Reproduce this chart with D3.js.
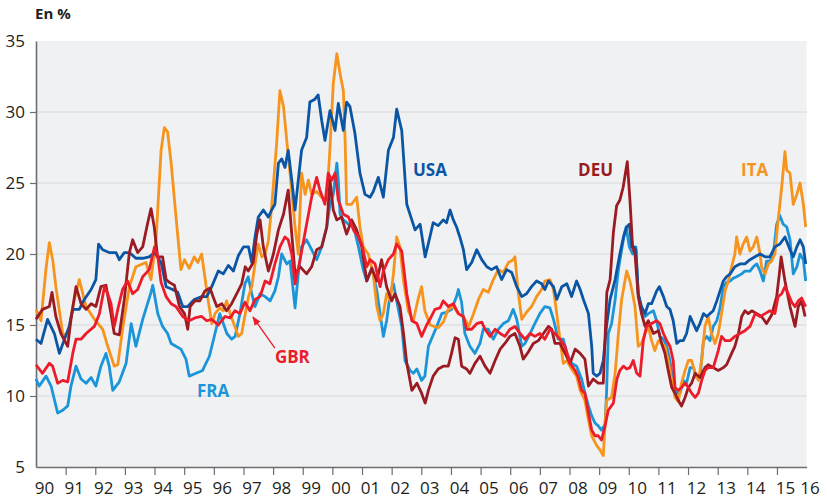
<!DOCTYPE html>
<html lang="fr">
<head>
<meta charset="UTF-8">
<title>Taux en %</title>
<script src="https://d3js.org/d3.v7.min.js"></script>
<style>
  body { margin: 0; background: #fff; }
  svg { display: block; font-family: "Open Sans", "Noto Sans", sans-serif; }
  .tick-label { font-size: 17px; fill: #231f20; }
  .series-label { font-size: 17px; font-weight: bold; }
</style>
</head>
<body>
<svg width="827" height="498"></svg>
<script>
// axis labels
const yTicks = [5, 10, 15, 20, 25, 30, 35];
const years = d3.range(1990, 2017);
const yearLabels = years.map(y => String(y).slice(2));

// series: [year, value in %]
const usa = [[1990.00,14.0],[1990.17,13.7],[1990.39,15.4],[1990.62,14.4],[1990.79,13.0],[1990.96,14.0],[1991.12,14.9],[1991.24,16.1],[1991.46,16.1],[1991.63,16.8],[1991.86,17.5],[1992.02,18.2],[1992.11,20.7],[1992.25,20.3],[1992.47,20.1],[1992.70,20.1],[1992.81,19.6],[1992.98,20.1],[1993.15,20.1],[1993.37,19.7],[1993.60,19.7],[1993.82,19.8],[1994.00,20.1],[1994.22,19.4],[1994.39,17.7],[1994.61,17.5],[1994.78,17.3],[1994.95,16.3],[1995.12,16.3],[1995.34,16.8],[1995.59,17.0],[1995.76,17.0],[1995.93,17.7],[1996.15,18.8],[1996.32,18.6],[1996.49,19.2],[1996.66,18.8],[1996.83,19.9],[1997.00,20.5],[1997.17,20.5],[1997.28,19.4],[1997.39,21.2],[1997.50,22.6],[1997.67,23.1],[1997.84,22.6],[1997.95,23.1],[1998.06,23.5],[1998.18,26.4],[1998.29,26.7],[1998.40,26.1],[1998.51,27.3],[1998.63,25.2],[1998.74,23.1],[1998.85,25.2],[1998.96,27.3],[1999.13,28.2],[1999.24,30.7],[1999.41,30.9],[1999.52,31.2],[1999.64,29.4],[1999.75,28.0],[1999.92,30.1],[2000.09,28.7],[2000.20,30.6],[2000.37,28.7],[2000.48,30.7],[2000.59,30.4],[2000.76,28.5],[2000.93,25.7],[2001.10,24.2],[2001.27,24.0],[2001.38,24.4],[2001.55,25.4],[2001.72,24.0],[2001.89,27.3],[2002.06,28.2],[2002.17,30.2],[2002.34,28.7],[2002.51,23.5],[2002.68,22.4],[2002.79,21.7],[2002.96,22.1],[2003.13,19.8],[2003.29,21.2],[2003.40,22.2],[2003.57,22.0],[2003.74,22.4],[2003.85,22.2],[2003.97,23.1],[2004.08,22.4],[2004.19,21.9],[2004.30,21.2],[2004.42,20.3],[2004.53,18.9],[2004.70,19.4],[2004.87,20.3],[2005.04,19.6],[2005.21,19.1],[2005.37,18.9],[2005.54,19.1],[2005.71,18.2],[2005.88,18.9],[2006.05,18.7],[2006.22,17.7],[2006.39,17.0],[2006.55,17.2],[2006.72,17.7],[2006.89,18.1],[2007.06,17.9],[2007.17,17.5],[2007.29,18.1],[2007.46,17.7],[2007.57,16.8],[2007.74,17.7],[2007.91,17.9],[2008.07,17.0],[2008.24,18.1],[2008.36,17.5],[2008.47,16.8],[2008.64,15.8],[2008.75,13.5],[2008.80,11.6],[2008.92,11.4],[2009.03,11.6],[2009.14,12.5],[2009.25,14.9],[2009.37,16.8],[2009.54,18.2],[2009.70,20.0],[2009.82,21.2],[2009.93,21.9],[2010.02,22.1],[2010.10,20.5],[2010.18,20.5],[2010.24,20.3],[2010.32,17.2],[2010.43,16.3],[2010.55,15.8],[2010.66,16.5],[2010.77,16.5],[2010.94,17.4],[2011.03,17.7],[2011.17,17.0],[2011.28,16.3],[2011.39,16.1],[2011.50,15.3],[2011.62,13.7],[2011.73,13.9],[2011.84,13.9],[2011.95,14.4],[2012.07,15.6],[2012.18,15.1],[2012.29,14.6],[2012.40,15.1],[2012.52,15.8],[2012.63,15.6],[2012.74,15.8],[2012.85,16.0],[2012.97,16.7],[2013.08,17.4],[2013.19,18.1],[2013.30,18.4],[2013.42,18.6],[2013.58,19.1],[2013.75,19.3],[2013.92,19.3],[2014.09,19.6],[2014.26,19.8],[2014.43,20.0],[2014.60,19.8],[2014.76,19.8],[2014.93,20.5],[2015.10,20.7],[2015.27,21.2],[2015.44,20.3],[2015.55,19.8],[2015.67,20.5],[2015.78,21.0],[2015.89,20.5],[2015.97,19.3]];

const ita = [[1990.00,16.1],[1990.17,15.3],[1990.34,19.0],[1990.45,20.8],[1990.57,19.5],[1990.67,17.7],[1990.90,14.4],[1991.07,14.2],[1991.24,16.3],[1991.46,18.2],[1991.69,16.3],[1991.97,15.4],[1992.25,14.7],[1992.42,13.5],[1992.64,12.1],[1992.76,12.2],[1992.92,14.7],[1993.15,17.7],[1993.37,19.1],[1993.71,19.4],[1993.88,18.2],[1994.05,21.0],[1994.22,27.3],[1994.33,28.9],[1994.44,28.6],[1994.56,26.4],[1994.72,22.7],[1994.89,18.9],[1995.01,19.6],[1995.17,19.0],[1995.34,19.8],[1995.46,19.4],[1995.59,20.0],[1995.79,17.0],[1995.93,15.1],[1996.04,15.8],[1996.20,16.2],[1996.32,16.0],[1996.43,16.7],[1996.55,15.8],[1996.71,14.9],[1996.83,14.2],[1996.94,14.4],[1997.06,15.8],[1997.17,17.0],[1997.28,17.7],[1997.39,19.3],[1997.50,20.7],[1997.62,19.8],[1997.73,20.0],[1997.84,20.9],[1997.95,23.3],[1998.12,27.8],[1998.23,31.5],[1998.35,30.4],[1998.46,28.0],[1998.57,25.7],[1998.74,21.9],[1998.85,20.0],[1998.96,25.7],[1999.08,24.2],[1999.19,25.2],[1999.30,24.2],[1999.47,24.4],[1999.64,24.0],[1999.81,23.8],[1999.92,27.5],[2000.03,32.0],[2000.15,34.1],[2000.26,32.7],[2000.37,31.5],[2000.43,28.0],[2000.48,23.5],[2000.65,23.5],[2000.82,24.0],[2000.93,21.9],[2001.04,20.5],[2001.21,20.0],[2001.38,18.6],[2001.50,16.3],[2001.61,15.3],[2001.72,15.8],[2001.83,17.2],[2001.95,16.7],[2002.06,18.6],[2002.17,21.2],[2002.28,20.5],[2002.40,18.1],[2002.56,16.0],[2002.73,15.3],[2002.90,16.9],[2003.01,17.7],[2003.12,16.0],[2003.30,15.0],[2003.57,14.8],[2003.74,15.2],[2003.91,16.1],[2004.08,16.3],[2004.25,15.8],[2004.42,15.6],[2004.60,14.9],[2004.76,15.8],[2004.93,16.8],[2005.09,17.5],[2005.26,17.3],[2005.43,18.2],[2005.60,18.9],[2005.77,18.7],[2005.94,19.4],[2006.10,19.6],[2006.16,19.8],[2006.27,17.3],[2006.39,15.4],[2006.55,15.9],[2006.72,16.3],[2006.89,17.0],[2007.06,17.5],[2007.17,18.1],[2007.34,18.2],[2007.46,17.5],[2007.57,15.8],[2007.68,14.0],[2007.79,12.3],[2007.91,12.5],[2008.07,11.9],[2008.24,11.4],[2008.36,10.4],[2008.52,9.7],[2008.64,8.3],[2008.75,7.2],[2008.92,6.5],[2009.03,6.2],[2009.14,5.8],[2009.25,9.7],[2009.42,9.9],[2009.54,11.6],[2009.65,14.4],[2009.76,16.8],[2009.82,17.5],[2009.93,18.8],[2010.04,18.1],[2010.13,17.2],[2010.21,16.3],[2010.32,13.5],[2010.43,13.7],[2010.55,14.4],[2010.66,14.9],[2010.77,13.9],[2010.88,13.2],[2011.00,13.9],[2011.11,13.7],[2011.22,13.5],[2011.33,12.5],[2011.45,11.1],[2011.56,9.9],[2011.67,9.6],[2011.78,10.9],[2011.90,11.8],[2012.01,12.5],[2012.12,12.5],[2012.24,11.6],[2012.35,11.1],[2012.46,12.5],[2012.57,14.9],[2012.68,15.6],[2012.79,14.4],[2012.91,13.7],[2013.02,14.4],[2013.13,15.8],[2013.25,17.4],[2013.36,18.1],[2013.47,19.1],[2013.58,20.0],[2013.64,21.2],[2013.75,20.0],[2013.86,20.7],[2013.98,21.2],[2014.09,20.2],[2014.20,20.5],[2014.32,21.2],[2014.43,20.0],[2014.48,19.1],[2014.60,18.6],[2014.71,19.3],[2014.82,19.5],[2014.93,20.0],[2015.04,22.4],[2015.16,24.7],[2015.27,27.2],[2015.33,25.9],[2015.44,25.7],[2015.55,23.5],[2015.67,24.2],[2015.78,25.0],[2015.89,23.5],[2015.97,21.9]];

const deu = [[1990.00,15.4],[1990.22,16.1],[1990.45,16.3],[1990.54,17.3],[1990.67,15.6],[1990.84,14.4],[1991.07,13.5],[1991.18,15.4],[1991.35,17.7],[1991.52,16.5],[1991.69,16.1],[1991.86,16.5],[1992.02,16.3],[1992.19,17.7],[1992.36,17.8],[1992.53,15.8],[1992.64,14.4],[1992.81,14.3],[1992.98,16.8],[1993.15,20.1],[1993.26,21.0],[1993.43,20.1],[1993.60,20.5],[1993.77,22.2],[1993.88,23.2],[1993.99,21.9],[1994.10,19.8],[1994.27,19.8],[1994.39,18.2],[1994.50,18.0],[1994.67,17.8],[1994.84,16.3],[1995.01,15.8],[1995.12,14.7],[1995.20,16.3],[1995.36,16.7],[1995.53,16.7],[1995.70,17.4],[1995.87,17.6],[1995.99,16.9],[1996.10,16.3],[1996.27,16.5],[1996.43,16.0],[1996.60,16.5],[1996.77,17.2],[1996.94,17.9],[1997.06,19.1],[1997.16,18.8],[1997.33,19.4],[1997.45,21.4],[1997.56,22.4],[1997.67,20.5],[1997.84,18.8],[1998.01,20.0],[1998.18,21.7],[1998.35,22.8],[1998.51,24.5],[1998.63,21.4],[1998.74,18.6],[1998.91,19.1],[1999.13,18.6],[1999.30,19.1],[1999.47,20.3],[1999.64,20.5],[1999.81,21.9],[1999.92,25.2],[2000.03,23.1],[2000.15,22.4],[2000.31,22.6],[2000.48,21.4],[2000.65,22.4],[2000.82,21.7],[2000.99,20.5],[2001.16,18.1],[2001.33,19.0],[2001.50,18.1],[2001.66,19.6],[2001.83,17.7],[2002.00,16.7],[2002.11,17.2],[2002.28,16.3],[2002.40,14.4],[2002.51,12.3],[2002.68,10.4],[2002.85,10.9],[2003.01,10.2],[2003.13,9.5],[2003.24,10.4],[2003.40,11.4],[2003.57,11.9],[2003.74,12.1],[2003.91,12.1],[2004.02,13.0],[2004.14,14.1],[2004.25,14.0],[2004.36,12.1],[2004.53,11.9],[2004.64,11.6],[2004.81,12.3],[2004.98,12.8],[2005.15,12.1],[2005.32,11.6],[2005.49,12.5],[2005.66,13.3],[2005.82,13.7],[2005.99,14.2],[2006.16,14.4],[2006.33,13.5],[2006.44,12.6],[2006.61,13.1],[2006.78,13.7],[2006.95,13.9],[2007.12,14.4],[2007.29,14.9],[2007.40,14.7],[2007.51,13.7],[2007.68,13.7],[2007.85,13.0],[2008.02,12.3],[2008.19,13.3],[2008.36,13.0],[2008.52,12.6],[2008.64,10.7],[2008.80,11.2],[2008.97,10.9],[2009.14,10.9],[2009.26,17.3],[2009.37,18.2],[2009.48,21.5],[2009.59,23.4],[2009.70,23.8],[2009.81,24.7],[2009.95,26.5],[2010.04,23.8],[2010.13,20.5],[2010.21,20.0],[2010.32,17.0],[2010.43,15.8],[2010.55,14.9],[2010.66,15.3],[2010.83,14.4],[2011.00,14.6],[2011.11,13.7],[2011.22,13.0],[2011.33,11.8],[2011.45,10.6],[2011.56,10.2],[2011.67,9.7],[2011.78,9.3],[2011.90,9.9],[2012.01,10.6],[2012.12,10.9],[2012.24,11.6],[2012.40,11.3],[2012.57,12.0],[2012.68,12.2],[2012.85,12.0],[2013.02,11.8],[2013.19,12.0],[2013.30,12.2],[2013.47,13.0],[2013.58,13.5],[2013.70,14.4],[2013.81,15.6],[2013.92,16.0],[2014.03,15.8],[2014.15,16.0],[2014.32,15.8],[2014.48,15.6],[2014.65,15.1],[2014.82,15.7],[2014.99,17.0],[2015.08,18.6],[2015.14,19.8],[2015.27,18.1],[2015.44,16.3],[2015.61,14.9],[2015.72,16.3],[2015.83,16.7],[2015.95,15.6]];

const gbr = [[1990.00,12.2],[1990.22,11.6],[1990.45,12.3],[1990.56,12.1],[1990.73,10.9],[1990.90,11.1],[1991.07,11.0],[1991.24,13.0],[1991.35,14.0],[1991.52,14.0],[1991.69,14.4],[1991.97,14.9],[1992.14,15.8],[1992.31,17.7],[1992.42,17.2],[1992.53,16.5],[1992.64,14.9],[1992.76,16.1],[1992.92,17.5],[1993.09,18.1],[1993.26,17.2],[1993.43,17.5],[1993.60,18.4],[1993.82,18.9],[1994.00,20.5],[1994.11,19.8],[1994.22,18.0],[1994.39,17.0],[1994.56,16.5],[1994.72,16.3],[1994.95,15.6],[1995.17,15.3],[1995.36,15.5],[1995.59,15.6],[1995.76,15.3],[1995.93,15.4],[1996.15,15.0],[1996.38,15.6],[1996.55,15.5],[1996.71,16.0],[1996.88,15.8],[1997.05,16.6],[1997.22,16.0],[1997.39,16.8],[1997.56,17.0],[1997.73,18.1],[1997.89,17.9],[1998.06,19.3],[1998.23,20.5],[1998.40,21.2],[1998.51,21.0],[1998.63,20.0],[1998.74,17.9],[1998.91,19.6],[1999.13,22.1],[1999.30,24.0],[1999.47,25.4],[1999.58,24.5],[1999.75,23.5],[1999.86,25.7],[1999.98,25.2],[2000.09,25.7],[2000.20,23.8],[2000.37,22.8],[2000.54,22.6],[2000.71,21.7],[2000.88,21.2],[2000.99,20.7],[2001.16,19.1],[2001.27,19.6],[2001.44,19.3],[2001.61,17.7],[2001.72,18.8],[2001.89,19.6],[2002.06,20.0],[2002.17,20.7],[2002.34,20.2],[2002.51,17.2],[2002.68,15.3],[2002.85,15.1],[2003.01,14.2],[2003.18,15.0],[2003.29,15.4],[2003.46,16.1],[2003.63,16.2],[2003.74,16.7],[2003.91,16.3],[2004.08,16.5],[2004.25,15.8],[2004.42,15.6],[2004.53,14.7],[2004.70,14.7],[2004.87,15.1],[2005.04,15.2],[2005.15,14.7],[2005.32,14.2],[2005.49,14.7],[2005.66,14.4],[2005.82,14.2],[2005.99,14.7],[2006.16,14.9],[2006.33,14.4],[2006.50,14.0],[2006.67,14.4],[2006.83,14.2],[2007.00,14.4],[2007.17,14.0],[2007.34,14.7],[2007.51,14.4],[2007.68,14.0],[2007.85,13.5],[2008.02,12.3],[2008.19,11.8],[2008.30,11.3],[2008.41,10.4],[2008.52,10.2],[2008.64,8.8],[2008.75,7.6],[2008.86,7.2],[2008.97,7.2],[2009.08,6.9],[2009.20,7.9],[2009.31,9.0],[2009.48,9.5],[2009.60,11.2],[2009.70,11.8],[2009.82,12.1],[2009.93,11.9],[2010.04,12.0],[2010.15,12.5],[2010.27,11.6],[2010.38,11.4],[2010.49,13.9],[2010.60,14.9],[2010.77,15.1],[2010.94,15.3],[2011.05,15.1],[2011.17,14.4],[2011.28,13.9],[2011.39,13.5],[2011.50,12.5],[2011.56,10.6],[2011.67,10.4],[2011.78,10.6],[2011.90,10.9],[2012.01,10.6],[2012.12,10.2],[2012.24,9.9],[2012.35,10.2],[2012.46,11.1],[2012.57,11.8],[2012.68,12.0],[2012.85,12.0],[2013.02,13.2],[2013.13,14.2],[2013.25,13.9],[2013.42,13.9],[2013.58,14.2],[2013.75,14.4],[2013.92,14.6],[2014.09,14.9],[2014.26,15.8],[2014.43,15.6],[2014.60,15.8],[2014.76,16.0],[2014.93,15.8],[2015.04,17.0],[2015.16,17.2],[2015.27,17.7],[2015.38,17.2],[2015.50,16.6],[2015.61,16.3],[2015.72,16.7],[2015.83,16.9],[2015.97,16.3]];

const fra = [[1990.00,11.2],[1990.11,10.7],[1990.34,11.4],[1990.51,10.7],[1990.73,8.8],[1990.90,9.0],[1991.07,9.3],[1991.18,10.7],[1991.35,12.1],[1991.52,11.2],[1991.69,10.9],[1991.86,11.3],[1992.02,10.7],[1992.19,12.1],[1992.36,13.0],[1992.47,12.1],[1992.59,10.4],[1992.81,11.0],[1993.04,12.3],[1993.21,15.1],[1993.37,13.5],[1993.60,15.4],[1993.88,17.3],[1993.94,17.8],[1994.11,15.8],[1994.27,14.9],[1994.44,14.4],[1994.56,13.7],[1994.72,13.5],[1994.89,13.3],[1995.06,12.6],[1995.17,11.4],[1995.40,11.6],[1995.62,11.8],[1995.85,12.8],[1996.04,14.4],[1996.20,15.8],[1996.32,15.1],[1996.44,14.4],[1996.60,14.0],[1996.72,14.2],[1996.88,15.8],[1997.05,17.9],[1997.16,18.4],[1997.28,17.2],[1997.39,16.3],[1997.56,17.2],[1997.73,17.0],[1997.90,16.7],[1998.06,17.4],[1998.18,18.4],[1998.29,20.0],[1998.46,19.3],[1998.57,19.5],[1998.66,17.8],[1998.74,16.2],[1998.85,18.6],[1998.96,20.5],[1999.13,21.0],[1999.30,20.3],[1999.47,19.6],[1999.64,20.5],[1999.81,21.9],[1999.92,23.5],[2000.03,24.2],[2000.15,26.4],[2000.20,25.2],[2000.26,22.8],[2000.37,22.4],[2000.54,22.1],[2000.71,22.0],[2000.88,20.5],[2001.04,18.9],[2001.16,18.1],[2001.33,19.0],[2001.50,17.4],[2001.61,15.8],[2001.72,14.2],[2001.83,15.3],[2001.95,17.2],[2002.06,17.9],[2002.17,16.7],[2002.34,14.9],[2002.45,12.5],[2002.62,11.8],[2002.73,11.6],[2002.85,11.9],[2003.01,11.1],[2003.12,11.4],[2003.24,13.5],[2003.34,14.0],[2003.52,14.9],[2003.69,15.8],[2003.85,15.9],[2004.02,16.1],[2004.19,17.0],[2004.25,17.5],[2004.36,16.6],[2004.47,14.4],[2004.64,13.5],[2004.81,13.0],[2004.98,13.7],[2005.09,14.7],[2005.26,14.7],[2005.43,14.0],[2005.60,14.7],[2005.77,15.1],[2005.94,15.3],[2006.10,16.1],[2006.22,15.4],[2006.39,13.5],[2006.50,13.7],[2006.67,14.4],[2006.83,15.1],[2007.00,15.8],[2007.17,16.3],[2007.34,16.2],[2007.46,15.4],[2007.62,14.0],[2007.79,14.0],[2007.91,13.0],[2008.07,12.3],[2008.24,12.1],[2008.41,11.2],[2008.52,10.2],[2008.64,9.3],[2008.75,8.6],[2008.86,8.1],[2008.97,7.9],[2009.08,7.6],[2009.20,8.0],[2009.25,10.2],[2009.31,14.4],[2009.42,15.1],[2009.54,16.8],[2009.65,18.9],[2009.76,20.3],[2009.86,21.5],[2009.91,21.9],[2010.02,20.5],[2010.13,20.0],[2010.24,20.5],[2010.32,17.2],[2010.43,16.0],[2010.55,15.6],[2010.66,15.8],[2010.83,16.0],[2010.94,15.3],[2011.05,14.2],[2011.17,14.0],[2011.28,13.5],[2011.39,12.5],[2011.50,10.9],[2011.62,10.2],[2011.73,10.2],[2011.84,11.1],[2011.95,10.9],[2012.07,12.0],[2012.18,12.0],[2012.29,11.3],[2012.40,11.3],[2012.52,13.9],[2012.63,14.2],[2012.74,13.9],[2012.85,14.9],[2012.97,15.3],[2013.08,16.2],[2013.19,17.7],[2013.30,18.0],[2013.42,18.1],[2013.53,18.3],[2013.64,18.4],[2013.81,18.6],[2013.92,18.8],[2014.09,18.8],[2014.20,19.1],[2014.32,19.3],[2014.43,18.8],[2014.54,18.1],[2014.65,19.5],[2014.76,19.5],[2014.88,20.0],[2014.99,22.1],[2015.10,22.7],[2015.21,22.1],[2015.33,21.9],[2015.44,21.0],[2015.55,18.6],[2015.67,19.1],[2015.78,20.0],[2015.89,19.6],[2015.97,18.1]];

const seriesNames = ["FRA", "ITA", "USA", "DEU", "GBR"]; // drawing order
const seriesData = { FRA: fra, ITA: ita, USA: usa, DEU: deu, GBR: gbr };
const colors = { FRA: "#1b95d8", ITA: "#f7941d", USA: "#0b56a4", DEU: "#9b1b22", GBR: "#ec1c2a" };
// label anchors in data units [year, value]
const labelPos = { USA: [2002.72, 25.5], DEU: [2008.29, 25.5], ITA: [2013.79, 25.5], GBR: [1998.06, 12.32], FRA: [1995.43, 9.93] };

const svg = d3.select("svg");
const plotLeft = 36, plotRight = 806.6, plotTop = 41, plotBottom = 467;

const x = d3.scaleLinear().domain([1990, 2016]).range([plotLeft, plotRight]);
const y = d3.scaleLinear().domain([5, 35]).range([plotBottom, plotTop]);

// plot background
svg.append("rect")
   .attr("x", plotLeft).attr("y", plotTop)
   .attr("width", plotRight - plotLeft).attr("height", plotBottom - plotTop)
   .attr("fill", "#f0f1f3");

// horizontal grid
svg.append("g")
   .selectAll("line")
   .data(yTicks.filter(d => d > 5 && d < 35))
   .join("line")
   .attr("x1", plotLeft).attr("x2", plotRight)
   .attr("y1", d => y(d)).attr("y2", d => y(d))
   .attr("stroke", "#d7d8db").attr("stroke-width", 1);

// y axis
const yAxis = svg.append("g")
   .attr("transform", `translate(${plotLeft},0)`)
   .call(d3.axisLeft(y).tickValues(yTicks).tickSize(6).tickSizeOuter(0).tickPadding(5));
yAxis.attr("font-family", null).attr("font-size", null);
yAxis.select(".domain").attr("stroke", "#6d6e71").attr("stroke-width", 1.6);
yAxis.selectAll(".tick line").attr("stroke", "#6d6e71").attr("stroke-width", 1.2)
     .filter(d => d === 5 || d === 35).remove();
yAxis.selectAll(".tick text").attr("class", "tick-label").attr("x", -11);

// x axis (ticks only, labels drawn separately)
const xAxis = svg.append("g")
   .attr("transform", `translate(0,${plotBottom})`)
   .call(d3.axisBottom(x).tickValues(d3.range(1991, 2016)).tickFormat("").tickSize(8).tickSizeOuter(0));
xAxis.select(".domain").attr("stroke", "#6d6e71").attr("stroke-width", 1.6);
xAxis.selectAll(".tick line").attr("stroke", "#6d6e71").attr("stroke-width", 1.2);

// year labels sit just right of each year tick; the last one is pulled in
svg.append("g")
   .selectAll("text")
   .data(years)
   .join("text")
   .attr("class", "tick-label")
   .attr("text-anchor", "middle")
   .attr("x", d => Math.min(x(d) + 8.5, 810))
   .attr("y", 494)
   .text((d, i) => yearLabels[i]);

// unit label
svg.append("text")
   .attr("x", 35).attr("y", 19)
   .attr("font-size", 15).attr("font-weight", "bold").attr("fill", "#231f20")
   .text("En %");

// lines
const line = d3.line().x(d => x(d[0])).y(d => y(d[1]));
svg.append("g")
   .selectAll("path")
   .data(seriesNames)
   .join("path")
   .attr("d", k => line(seriesData[k]))
   .attr("fill", "none")
   .attr("stroke", k => colors[k])
   .attr("stroke-width", 2.8)
   .attr("stroke-linejoin", "round");

// GBR arrow
svg.append("defs").append("marker")
   .attr("id", "arr").attr("viewBox", "0 0 10 10")
   .attr("refX", 9).attr("refY", 5)
   .attr("markerWidth", 7).attr("markerHeight", 7)
   .attr("orient", "auto-start-reverse")
   .append("path").attr("d", "M0,1 L10,5 L0,9 z").attr("fill", colors.GBR);

svg.append("line")
   .attr("x1", x(1998.06)).attr("y1", y(13.38))
   .attr("x2", x(1997.32)).attr("y2", y(15.56))
   .attr("stroke", colors.GBR).attr("stroke-width", 1.3)
   .attr("marker-end", "url(#arr)");

// series labels
svg.append("g")
   .selectAll("text")
   .data(seriesNames)
   .join("text")
   .attr("class", "series-label")
   .attr("x", k => x(labelPos[k][0]))
   .attr("y", k => y(labelPos[k][1]))
   .attr("fill", k => colors[k])
   .text(k => k);
</script>
</body>
</html>
